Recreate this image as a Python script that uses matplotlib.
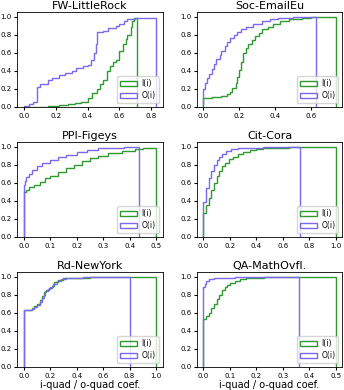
import matplotlib.pyplot as plt
from matplotlib.patches import Patch

# Curvas acumuladas (degraus): x onde começa cada degrau, valor acumulado, e x final
titulos = ['FW-LittleRock', 'Soc-EmailEu', 'PPI-Figeys', 'Cit-Cora', 'Rd-NewYork', 'QA-MathOvfl.']

# FW-LittleRock
fw_i_x = [0.0, 0.15, 0.22, 0.28, 0.32, 0.36, 0.40, 0.43, 0.46, 0.48, 0.50, 0.52, 0.54, 0.56, 0.58,
          0.60, 0.62, 0.64, 0.65, 0.67, 0.68, 0.69]
fw_i_y = [0.0, 0.01, 0.02, 0.03, 0.04, 0.06, 0.10, 0.15, 0.20, 0.25, 0.30, 0.40, 0.45, 0.50, 0.52,
          0.62, 0.70, 0.75, 0.80, 0.88, 0.95, 0.98]
fw_i_fim = 0.71
fw_o_x = [0.0, 0.03, 0.06, 0.08, 0.10, 0.15, 0.18, 0.22, 0.26, 0.30, 0.33, 0.37, 0.40, 0.42, 0.44,
          0.45, 0.46, 0.50, 0.53, 0.58, 0.60, 0.63, 0.65, 0.70]
fw_o_y = [0.015, 0.03, 0.06, 0.22, 0.25, 0.30, 0.32, 0.35, 0.38, 0.40, 0.43, 0.45, 0.46, 0.52, 0.60,
          0.70, 0.83, 0.84, 0.87, 0.90, 0.92, 0.95, 0.97, 0.99]
fw_o_fim = 0.83

# Soc-EmailEu
soc_i_x = [0.0, 0.05, 0.10, 0.13, 0.15, 0.16, 0.18, 0.19, 0.20, 0.21, 0.22, 0.24, 0.25, 0.27, 0.29,
           0.31, 0.33, 0.36, 0.39, 0.43, 0.48, 0.55, 0.60]
soc_i_y = [0.10, 0.11, 0.12, 0.14, 0.17, 0.21, 0.27, 0.33, 0.41, 0.50, 0.60, 0.65, 0.70, 0.74, 0.78,
           0.82, 0.86, 0.89, 0.92, 0.95, 0.97, 0.99, 1.0]
soc_i_fim = 0.74
soc_o_x = [0.0, 0.01, 0.02, 0.03, 0.05, 0.06, 0.07, 0.09, 0.10, 0.12, 0.13, 0.15, 0.17, 0.19, 0.21,
           0.24, 0.28, 0.33, 0.37, 0.42, 0.50]
soc_o_y = [0.20, 0.27, 0.32, 0.37, 0.42, 0.48, 0.53, 0.58, 0.62, 0.67, 0.72, 0.76, 0.80, 0.83, 0.86,
           0.89, 0.92, 0.95, 0.97, 0.99, 1.0]
soc_o_fim = 0.63

# PPI-Figeys
ppi_i_x = [0.0, 0.01, 0.02, 0.04, 0.06, 0.08, 0.10, 0.13, 0.16, 0.19, 0.22, 0.25, 0.28, 0.32, 0.37,
           0.42, 0.45, 0.48]
ppi_i_y = [0.50, 0.52, 0.55, 0.58, 0.61, 0.65, 0.68, 0.72, 0.76, 0.80, 0.84, 0.87, 0.90, 0.93, 0.95,
           0.97, 0.98, 0.99]
ppi_i_fim = 0.50
ppi_o_x = [0.0, 0.005, 0.01, 0.02, 0.03, 0.05, 0.07, 0.10, 0.13, 0.16, 0.20, 0.24, 0.28, 0.33, 0.38]
ppi_o_y = [0.58, 0.62, 0.66, 0.70, 0.74, 0.78, 0.82, 0.85, 0.88, 0.91, 0.94, 0.96, 0.98, 0.99, 1.0]
ppi_o_fim = 0.435

# Cit-Cora
cora_i_x = [0.0, 0.02, 0.04, 0.06, 0.08, 0.10, 0.12, 0.14, 0.16, 0.19, 0.22, 0.26, 0.30, 0.35, 0.40,
            0.45, 0.52, 0.65]
cora_i_y = [0.27, 0.35, 0.43, 0.52, 0.60, 0.67, 0.73, 0.78, 0.82, 0.86, 0.89, 0.92, 0.94, 0.96, 0.97,
            0.98, 0.99, 1.0]
cora_i_fim = 1.0
cora_o_x = [0.0, 0.02, 0.04, 0.06, 0.08, 0.10, 0.12, 0.14, 0.17, 0.21, 0.26, 0.32, 0.45]
cora_o_y = [0.39, 0.54, 0.65, 0.73, 0.80, 0.85, 0.89, 0.92, 0.95, 0.97, 0.98, 0.99, 1.0]
cora_o_fim = 0.73

# Rd-NewYork
ny_i_x = [0.0, 0.06, 0.08, 0.10, 0.12, 0.14, 0.15, 0.17, 0.19, 0.21, 0.23, 0.26, 0.30, 0.35, 0.50]
ny_i_y = [0.63, 0.65, 0.67, 0.70, 0.74, 0.78, 0.83, 0.85, 0.87, 0.90, 0.94, 0.96, 0.98, 0.99, 1.0]
ny_i_fim = 1.0
ny_o_x = [0.0, 0.06, 0.08, 0.10, 0.12, 0.14, 0.15, 0.16, 0.18, 0.20, 0.22, 0.25, 0.28, 0.32, 0.45]
ny_o_y = [0.63, 0.64, 0.66, 0.69, 0.72, 0.76, 0.80, 0.84, 0.86, 0.88, 0.92, 0.95, 0.97, 0.99, 1.0]
ny_o_fim = 0.80

# QA-MathOvfl.
qa_i_x = [0.0, 0.01, 0.02, 0.03, 0.04, 0.05, 0.06, 0.07, 0.08, 0.09, 0.10, 0.12, 0.14, 0.16, 0.19, 0.23]
qa_i_y = [0.53, 0.56, 0.60, 0.65, 0.70, 0.75, 0.80, 0.85, 0.88, 0.91, 0.93, 0.95, 0.97, 0.98, 0.99, 1.0]
qa_i_fim = 0.50
qa_o_x = [0.0, 0.005, 0.01, 0.02, 0.04, 0.07, 0.12]
qa_o_y = [0.88, 0.92, 0.95, 0.97, 0.98, 0.99, 1.0]
qa_o_fim = 0.36

paineis = [
    (fw_i_x, fw_i_y, fw_i_fim, fw_o_x, fw_o_y, fw_o_fim),
    (soc_i_x, soc_i_y, soc_i_fim, soc_o_x, soc_o_y, soc_o_fim),
    (ppi_i_x, ppi_i_y, ppi_i_fim, ppi_o_x, ppi_o_y, ppi_o_fim),
    (cora_i_x, cora_i_y, cora_i_fim, cora_o_x, cora_o_y, cora_o_fim),
    (ny_i_x, ny_i_y, ny_i_fim, ny_o_x, ny_o_y, ny_o_fim),
    (qa_i_x, qa_i_y, qa_i_fim, qa_o_x, qa_o_y, qa_o_fim),
]

cor_i = '#2e9a2e'
cor_o = '#7b68ee'

fig, axes = plt.subplots(3, 2, figsize=(3.44, 3.90), dpi=100)
fig.subplots_adjust(left=0.05, right=0.995, bottom=0.059, top=0.969, wspace=0.235, hspace=0.37)

for ax, titulo, (ix, iy, ifim, ox, oy, ofim) in zip(axes.flat, titulos, paineis):
    ax.stairs(iy, ix + [ifim], baseline=0, color=cor_i, linewidth=1.0)
    ax.stairs(oy, ox + [ofim], baseline=0, color=cor_o, linewidth=1.0)
    ax.set_ylim(0, 1.05)
    ax.set_title(titulo, fontsize=8, pad=2)
    ax.tick_params(labelsize=5, length=2.5, pad=1.5)
    for s in ax.spines.values():
        s.set_linewidth(0.6)
    handles = [Patch(facecolor='none', edgecolor=cor_i, linewidth=1.0, label='I(i)'),
               Patch(facecolor='none', edgecolor=cor_o, linewidth=1.0, label='O(i)')]
    ax.legend(handles=handles, loc='lower right', fontsize=5.5, handlelength=2.2,
              borderpad=0.4, labelspacing=0.4, handletextpad=0.6)

for ax in axes[2]:
    ax.set_xlabel('i-quad / o-quad coef.', fontsize=7, labelpad=1)

fig.savefig('out.png', dpi=100)
